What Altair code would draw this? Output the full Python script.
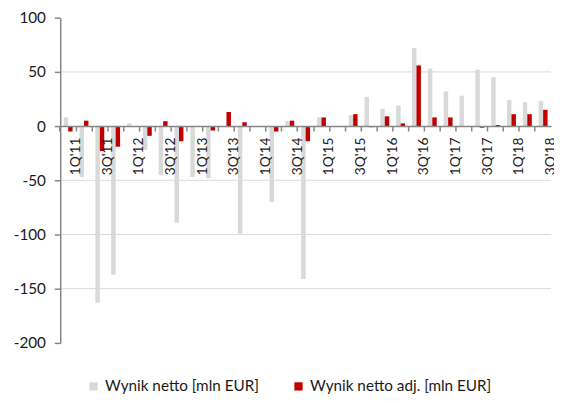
import altair as alt
import pandas as pd

quarters = ["1Q'11", "2Q'11", "3Q'11", "4Q'11",
            "1Q'12", "2Q'12", "3Q'12", "4Q'12",
            "1Q'13", "2Q'13", "3Q'13", "4Q'13",
            "1Q'14", "2Q'14", "3Q'14", "4Q'14",
            "1Q'15", "2Q'15", "3Q'15", "4Q'15",
            "1Q'16", "2Q'16", "3Q'16", "4Q'16",
            "1Q'17", "2Q'17", "3Q'17", "4Q'17",
            "1Q'18", "2Q'18", "3Q'18"]

wynik_netto = [8, -47, -163, -137,
               2.5, -22, -45, -89,
               -47, -48, -1, -99,
               -1, -70, 4.5, -141,
               8, -1, 10, 27,
               16, 19, 72, 53,
               32, 28, 52, 45,
               24, 22, 23]

wynik_adj = [-5, 5, -23, -19,
             0, -9, 4.5, -14,
             0, -4, 13, 3.5,
             0, -5, 5, -14,
             8, 0, 11, -1,
             9, 2.5, 56, 8,
             8, 0, -1.5, 1,
             11, 11, 15]

series_names = ["Wynik netto [mln EUR]", "Wynik netto adj. [mln EUR]"]
series_colors = ["#D9D9D9", "#C00000"]

y_ticks = [-200, -150, -100, -50, 0, 50, 100]
grid_vals = [50, -50, -100, -150]

rows = []
for q, a, b in zip(quarters, wynik_netto, wynik_adj):
    rows.append({"quarter": q, "series": series_names[0], "value": a})
    rows.append({"quarter": q, "series": series_names[1], "value": b})
df = pd.DataFrame(rows)

FONT = "Lato"
FS = 15.5
FSX = 14
TXT = "#1a1a1a"
AXC = "#868686"

H = 330
W = 498
STEP = W / len(quarters)

xscale = alt.Scale(paddingInner=0, paddingOuter=0)
yscale = alt.Scale(domain=[-200, 100], nice=False, zero=False)

grid = alt.Chart(pd.DataFrame({"v": grid_vals})).mark_rule(
    color="#D9D9D9", strokeWidth=1
).encode(y=alt.Y("v:Q", scale=yscale))

label_expr = ("(indexof(datum.label, '1Q') == 0 || indexof(datum.label, '3Q') == 0)"
              " ? datum.label : ''")

bars = alt.Chart(df).mark_bar().encode(
    x=alt.X("quarter:N", sort=quarters, scale=xscale,
            axis=alt.Axis(title=None, labels=True, labelExpr=label_expr,
                          labelAngle=270, labelAlign="right", labelBaseline="middle",
                          labelOffset=STEP / 2, labelPadding=6, labelOverlap=False,
                          labelFont=FONT, labelFontSize=FSX, labelColor=TXT,
                          ticks=True, tickSize=5,
                          tickColor=AXC, tickWidth=1.5, domainColor=AXC,
                          domainWidth=1.5, offset=-(H * 2 / 3), bandPosition=0,
                          zindex=1)),
    xOffset=alt.XOffset("series:N", sort=series_names,
                        scale=alt.Scale(paddingOuter=0.78, paddingInner=0)),
    y=alt.Y("value:Q", scale=yscale,
            axis=alt.Axis(title=None, values=y_ticks, grid=False,
                          domainColor=AXC, domainWidth=1.5, tickColor=AXC,
                          tickWidth=1.5, tickSize=6, labelPadding=9,
                          labelExpr="replace(format(datum.value, 'd'), '\u2212', '-')",
                          labelFont=FONT, labelFontSize=FS, labelColor=TXT,
                          zindex=1)),
    color=alt.Color("series:N", sort=series_names,
                    scale=alt.Scale(domain=series_names, range=series_colors),
                    legend=alt.Legend(title=None, orient="none", direction="horizontal",
                                      legendX=26, legendY=366, symbolType="square",
                                      symbolSize=70, symbolStrokeWidth=0,
                                      labelFont=FONT, labelFontSize=FS,
                                      labelColor=TXT, labelLimit=400,
                                      labelOffset=4, columnPadding=32)),
)

chart = alt.layer(grid, bars).properties(
    width=W, height=H,
    autosize=alt.AutoSizeParams(type="none"),
    padding={"left": 53, "top": 7, "right": 3, "bottom": 49},
).configure_view(stroke=None)

chart.save("out.html", embed_options={"renderer": "svg", "actions": False})
